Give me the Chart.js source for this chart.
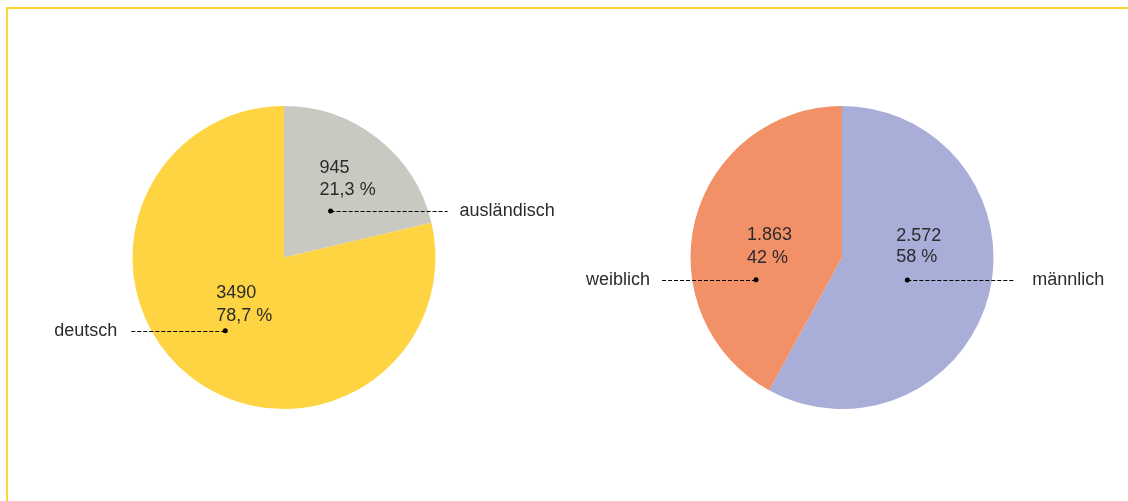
<!DOCTYPE html>
<html lang="de">
<head>
<meta charset="utf-8">
<script src="https://cdn.jsdelivr.net/npm/chart.js@4/dist/chart.umd.min.js"></script>
<style>
  html, body { margin: 0; padding: 0; background: #fff; }
  body { width: 1128px; height: 501px; position: relative; overflow: hidden; }
  .frame { position: absolute; left: 6px; top: 7px; right: -10px; bottom: -10px;
           border-top: 2px solid #FFD52E; border-left: 2px solid #FFD52E; }
  .pie { position: absolute; top: 0; width: 564px; height: 501px; }
  #pieLeft { left: 0; }
  #pieRight { left: 564px; }
</style>
</head>
<body>
<div class="frame"></div>
<div class="pie" id="pieLeft"><canvas id="chartLeft"></canvas></div>
<div class="pie" id="pieRight"><canvas id="chartRight"></canvas></div>
<script>
// --- Daten ---
const leftLabels = ['ausländisch', 'deutsch'];
const leftValues = [945, 3490];
const leftValueText = ['945', '3490'];
const leftPercentText = ['21,3 %', '78,7 %'];
const leftColors = ['#C9C8C1', '#FFD443'];

const rightLabels = ['männlich', 'weiblich'];
const rightValues = [2572, 1863];
const rightValueText = ['2.572', '1.863'];
const rightPercentText = ['58 %', '42 %'];
const rightColors = ['#A9AED9', '#F29068'];

// Lage der Beschriftungen je Segment (Winkel ab 12 Uhr, Anteil vom Radius)
const leftLayout = [
    { angle: 45, frac: 0.435, side: 'right', line: 117, gap: 12, dx: -11, dy1: -38, dy2: -16 },
    { angle: 218.7, frac: 0.62, side: 'left', line: 95, gap: 13, dx: -9, dy1: -33, dy2: -10 }
];
const rightLayout = [
    { angle: 109, frac: 0.456, side: 'right', line: 107, gap: 18, dx: -11, dy1: -39, dy2: -18 },
    { angle: 255.5, frac: 0.586, side: 'left', line: 94, gap: 12, dx: -9, dy1: -40, dy2: -17 }
];

const RADIUS = 151.5;
const FONT = '18px "Liberation Sans", Arial, sans-serif';
const TEXT_COLOR = '#2b2b2b';

// Beschriftungs-Plugin
const labelPlugin = {
    id: 'pieLabels',
    afterDatasetsDraw(chart, args, opts) {
        const ctx = chart.ctx;
        const arcs = chart.getDatasetMeta(0).data;
        ctx.save();
        ctx.font = FONT;
        ctx.fillStyle = TEXT_COLOR;
        ctx.strokeStyle = '#000';
        arcs.forEach((arc, i) => {
            const lay = opts.layout[i];
            const a = (lay.angle - 90) * Math.PI / 180;
            const r = arc.outerRadius * lay.frac;
            const px = arc.x + Math.cos(a) * r;
            const py = arc.y + Math.sin(a) * r;

            // Werte
            ctx.textAlign = 'left';
            ctx.textBaseline = 'alphabetic';
            ctx.fillText(opts.values[i], px + lay.dx, py + lay.dy1);
            ctx.fillText(opts.percents[i], px + lay.dx, py + lay.dy2);

            // gestrichelte Linie
            const ex = lay.side === 'right' ? px + lay.line : px - lay.line;
            ctx.beginPath();
            ctx.setLineDash([4, 2]);
            ctx.lineWidth = 1.2;
            ctx.moveTo(px, Math.round(py) + 0.5);
            ctx.lineTo(ex, Math.round(py) + 0.5);
            ctx.stroke();
            ctx.setLineDash([]);

            // Punkt
            ctx.beginPath();
            ctx.fillStyle = '#000';
            ctx.arc(px, py, 2.5, 0, Math.PI * 2);
            ctx.fill();
            ctx.fillStyle = TEXT_COLOR;

            // Kategorie
            if (lay.side === 'right') {
                ctx.textAlign = 'left';
                ctx.fillText(opts.labels[i], ex + lay.gap, py + 5.5);
            } else {
                ctx.textAlign = 'right';
                ctx.fillText(opts.labels[i], ex - lay.gap, py + 5.5);
            }
        });
        ctx.restore();
    }
};

function makePie(canvasId, cx, cy, labels, values, colors, valueText, percentText, layout) {
    const w = 564, h = 501;
    return new Chart(document.getElementById(canvasId), {
        type: 'pie',
        data: {
            labels: labels,
            datasets: [{
                data: values,
                backgroundColor: colors,
                borderWidth: 0,
                hoverOffset: 0
            }]
        },
        options: {
            responsive: true,
            maintainAspectRatio: false,
            animation: false,
            events: [],
            layout: {
                padding: {
                    left: cx - RADIUS,
                    right: w - cx - RADIUS,
                    top: cy - RADIUS,
                    bottom: h - cy - RADIUS
                }
            },
            plugins: {
                legend: { display: false },
                tooltip: { enabled: false },
                pieLabels: {
                    labels: labels,
                    values: valueText,
                    percents: percentText,
                    layout: layout
                }
            }
        },
        plugins: [labelPlugin]
    });
}

makePie('chartLeft', 284, 257.5, leftLabels, leftValues, leftColors, leftValueText, leftPercentText, leftLayout);
makePie('chartRight', 842 - 564, 257.5, rightLabels, rightValues, rightColors, rightValueText, rightPercentText, rightLayout);
</script>
</body>
</html>
